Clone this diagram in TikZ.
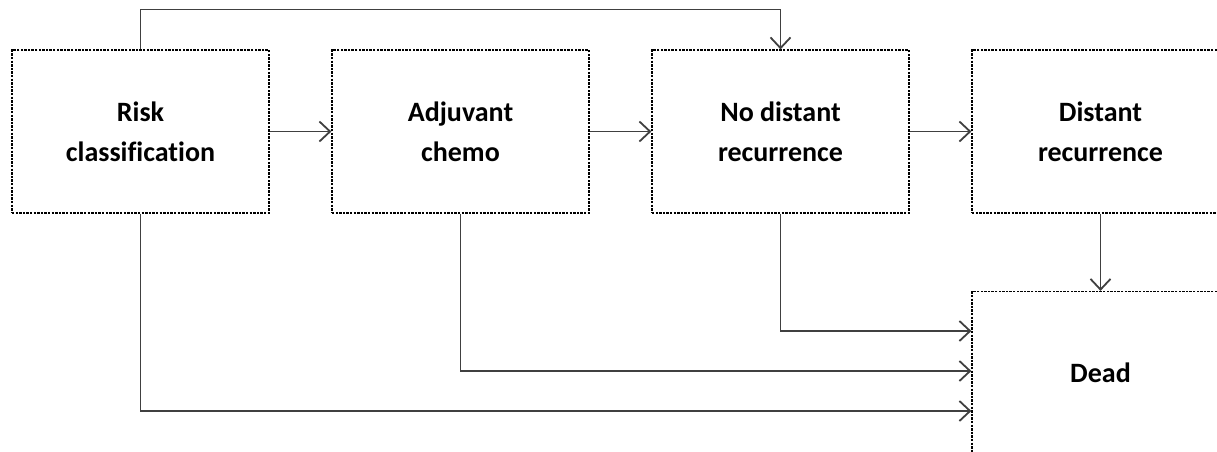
\documentclass[tikz,border=0pt]{standalone}
\usepackage{fontspec}
\setmainfont{Carlito}[Ligatures=NoCommon]
\usetikzlibrary{arrows.meta,calc}
\definecolor{linegray}{HTML}{404040}
\tikzset{
  state/.style={draw=black,line width=0.9pt,dash pattern=on 1.8pt off 0.9pt,
    minimum width=192.75pt,minimum height=122.25pt,align=center,
    font=\bfseries\fontsize{21}{30}\selectfont,inner sep=0pt},
  flow/.style={draw=linegray,line width=1.35pt,-{Straight Barb[length=8pt,width=15pt,line width=1.35pt]}}
}
\begin{document}
\begin{tikzpicture}[x=0.75pt,y=-0.75pt]
\useasboundingbox (0,0) rectangle (1217,451);
\clip (0,0) rectangle (1217,451);
\node[state] (risk) at (140.5,131.5) {Risk\\classification};
\node[state] (adj) at (460.5,131.5) {Adjuvant\\chemo};
\node[state] (nodist) at (780.5,131.5) {No distant\\recurrence};
\node[state] (dist) at (1100.5,131.5) {Distant\\recurrence};
\node[state] (dead) at (1100.5,373) {Dead};
% main line
\draw[flow] (risk) -- (adj);
\draw[flow] (adj) -- (nodist);
\draw[flow] (nodist) -- (dist);
\draw[flow] (dist) -- (dead);
% jump over chemo
\draw[flow] (risk.north) -- ++(0,-40) -| (nodist.north);
% deaths
\draw[flow] (nodist.south) |- ([yshift=31.5pt]dead.west);
\draw[flow] (adj.south) |- ([yshift=1.5pt]dead.west);
\draw[flow] (risk.south) |- ([yshift=-28.5pt]dead.west);
\end{tikzpicture}
\end{document}
